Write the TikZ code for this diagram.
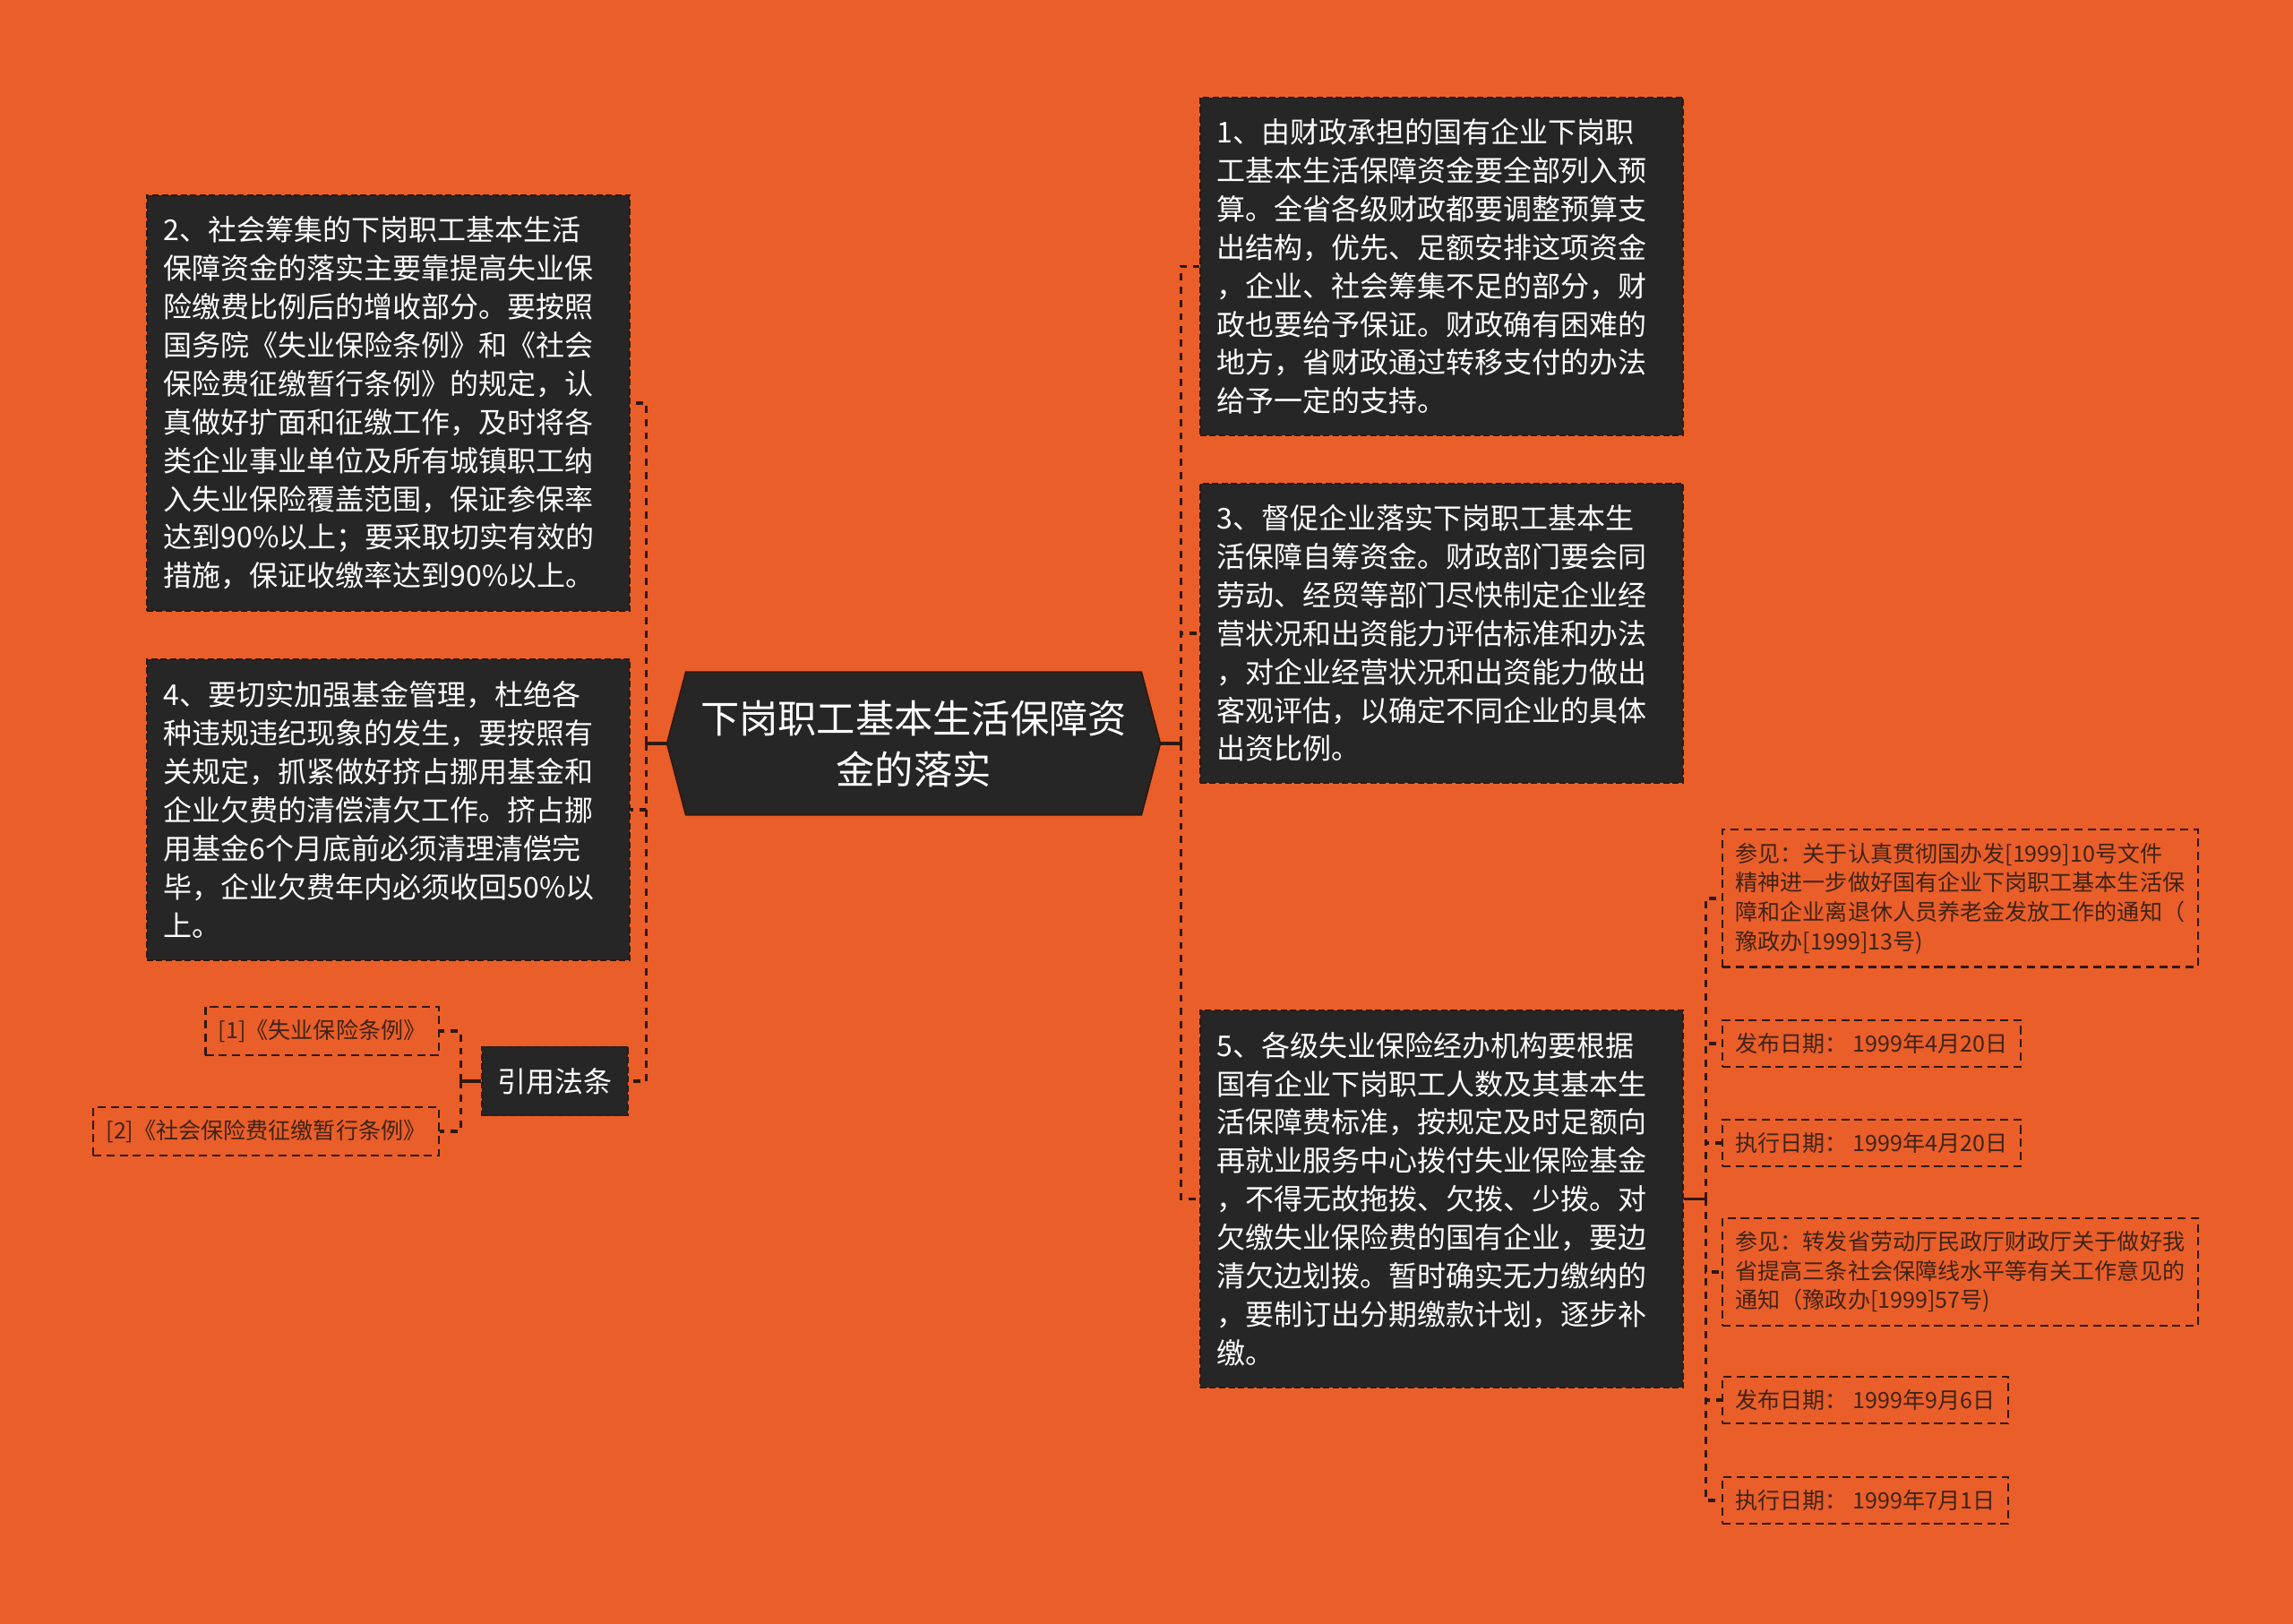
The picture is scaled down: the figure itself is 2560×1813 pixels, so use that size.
\documentclass[tikz,border=0pt]{standalone}
\usepackage{fontspec}
\setmainfont{Noto Sans CJK SC}
\usetikzlibrary{positioning,backgrounds}

\definecolor{bgorange}{RGB}{234,94,42}
\definecolor{boxdark}{RGB}{38,38,38}
\definecolor{linedark}{RGB}{48,24,14}
\definecolor{subtext}{RGB}{62,36,22}

\begin{document}
\begin{tikzpicture}[x=0.01cm,y=-0.01cm,
	]

	\tikzset{topic/.style={
				anchor=north west,
				fill=boxdark,
				draw=linedark,
				line width=0.5pt,
				dash pattern=on 2pt off 1pt,
				text=white,
				font=\fontsize{9.1pt}{12.2pt}\selectfont,
				align=left,
				text width=5.01cm,
				inner xsep=0.19cm,
				inner ysep=0pt}
	}
	\tikzset{citebox/.style={
				fill=boxdark,
				draw=linedark,
				line width=0.5pt,
				dash pattern=on 2pt off 1pt,
				text=white,
				font=\fontsize{9.1pt}{12.2pt}\selectfont,
				minimum width=1.63cm,
				minimum height=0.77cm}
	}
	\tikzset{refbox/.style={
				draw=linedark,
				line width=0.65pt,
				dash pattern=on 2.6pt off 1.6pt,
				text=subtext,
				font=\fontsize{7.13pt}{9.3pt}\selectfont,
				align=left,
				inner xsep=0.145cm,
				inner ysep=0.145cm}
	}
	\tikzset{stem/.style={draw=linedark,line width=0.9pt}}
	\tikzset{link/.style={draw=linedark,line width=0.9pt,dash pattern=on 2.2pt off 2pt}}

	% centre topic
	\node[text=white,align=center,font=\fontsize{12.3pt}{16.2pt}\selectfont,
		minimum width=5.49cm,minimum height=1.58cm,inner sep=0pt] (root) at (1020,830)
	{下岗职工基本生活保障资\\金的落实};

	% right side
	\node[topic,minimum height=3.77cm] (b1) at (1339,108)
	{1、由财政承担的国有企业下岗职\\工基本生活保障资金要全部列入预\\算。全省各级财政都要调整预算支\\出结构，优先、足额安排这项资金\\，企业、社会筹集不足的部分，财\\政也要给予保证。财政确有困难的\\地方，省财政通过转移支付的办法\\给予一定的支持。};

	\node[topic,minimum height=3.34cm] (b3) at (1339,539)
	{3、督促企业落实下岗职工基本生\\活保障自筹资金。财政部门要会同\\劳动、经贸等部门尽快制定企业经\\营状况和出资能力评估标准和办法\\，对企业经营状况和出资能力做出\\客观评估，以确定不同企业的具体\\出资比例。};

	\node[topic,minimum height=4.21cm] (b5) at (1339,1127)
	{5、各级失业保险经办机构要根据\\国有企业下岗职工人数及其基本生\\活保障费标准，按规定及时足额向\\再就业服务中心拨付失业保险基金\\，不得无故拖拨、欠拨、少拨。对\\欠缴失业保险费的国有企业，要边\\清欠边划拨。暂时确实无力缴纳的\\，要制订出分期缴款计划，逐步补\\缴。};

	% left side
	\node[topic,minimum height=4.64cm] (b2) at (163,217)
	{2、社会筹集的下岗职工基本生活\\保障资金的落实主要靠提高失业保\\险缴费比例后的增收部分。要按照\\国务院《失业保险条例》和《社会\\保险费征缴暂行条例》的规定，认\\真做好扩面和征缴工作，及时将各\\类企业事业单位及所有城镇职工纳\\入失业保险覆盖范围，保证参保率\\达到90\%以上；要采取切实有效的\\措施，保证收缴率达到90\%以上。};

	\node[topic,minimum height=3.36cm] (b4) at (163,735)
	{4、要切实加强基金管理，杜绝各\\种违规违纪现象的发生，要按照有\\关规定，抓紧做好挤占挪用基金和\\企业欠费的清偿清欠工作。挤占挪\\用基金6个月底前必须清理清偿完\\毕，企业欠费年内必须收回50\%以\\上。};

	\node[citebox,anchor=east] (cite) at (702,1207) {引用法条};

	\node[refbox,anchor=east] (l1) at (491,1151) {[1]《失业保险条例》};
	\node[refbox,anchor=east] (l2) at (491,1263) {[2]《社会保险费征缴暂行条例》};

	% notes of item 5
	\node[refbox,anchor=west] (r1) at (1922,1003)
	{参见：关于认真贯彻国办发[1999]10号文件\\精神进一步做好国有企业下岗职工基本生活保\\障和企业离退休人员养老金发放工作的通知（\\豫政办[1999]13号)};
	\node[refbox,anchor=west] (r2) at (1922,1165) {发布日期： 1999年4月20日};
	\node[refbox,anchor=west] (r3) at (1922,1276) {执行日期： 1999年4月20日};
	\node[refbox,anchor=west] (r4) at (1922,1420)
	{参见：转发省劳动厅民政厅财政厅关于做好我\\省提高三条社会保障线水平等有关工作意见的\\通知（豫政办[1999]57号)};
	\node[refbox,anchor=west] (r5) at (1922,1563) {发布日期： 1999年9月6日};
	\node[refbox,anchor=west] (r6) at (1922,1675) {执行日期： 1999年7月1日};

	\begin{scope}[on background layer]
		\fill[bgorange] (0,0) rectangle (2560,1813);
		\filldraw[fill=boxdark,draw=linedark,line width=0.5pt]
		(root.west) -- ([xshift=0.21cm]root.north west) -- ([xshift=-0.21cm]root.north east)
		-- (root.east) -- ([xshift=-0.21cm]root.south east) -- ([xshift=0.21cm]root.south west) -- cycle;
	\end{scope}

	\coordinate[right=0.23cm of root.east] (rt);
	\coordinate[left=0.23cm of root.west] (lt);
	\coordinate[left=0.23cm of cite.west] (ct);
	\coordinate[right=0.24cm of b5.east] (st);

	\draw[stem] (root.east) -- (rt);
	\foreach \n in {b1,b3,b5} {
			\draw[link] (rt) |- (\n.west);
		}

	\draw[stem] (root.west) -- (lt);
	\foreach \n in {b2,b4,cite} {
			\draw[link] (lt) |- (\n.east);
		}

	\draw[stem] (cite.west) -- (ct);
	\foreach \n in {l1,l2} {
			\draw[link] (ct) |- (\n.east);
		}

	\draw[stem] (b5.east) -- (st);
	\foreach \n in {r1,r2,r3,r4,r5,r6} {
			\draw[link] (st) |- (\n.west);
		}

\end{tikzpicture}
\end{document}
